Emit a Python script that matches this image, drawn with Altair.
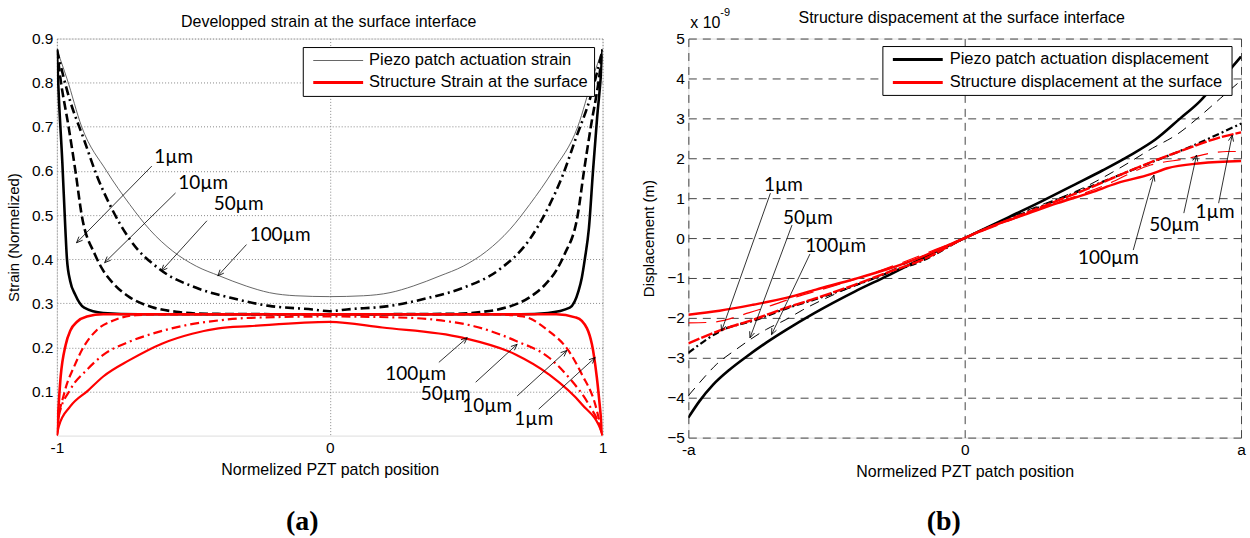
import math
import altair as alt
import pandas as pd

# ---------------- Panel (a): strain (x = normalized position, v = normalized strain) -------------
S_X_P1 = [-1.0, -0.993, -0.98, -0.969, -0.963, -0.951, -0.933, -0.90, -0.83, -0.70, 0.0, 0.70, 0.80, 0.88, 0.912, 0.924, 0.935, 0.95, 0.965, 0.98, 0.993, 1.0]
S_V_P1 = [0.875, 0.77, 0.62, 0.47, 0.40, 0.35, 0.32, 0.29, 0.278, 0.275, 0.275, 0.275, 0.278, 0.29, 0.328, 0.358, 0.40, 0.47, 0.60, 0.72, 0.81, 0.875]
S_X_P10 = [-1.0, -0.987, -0.957, -0.932, -0.909, -0.86, -0.83, -0.792, -0.734, -0.65, -0.553, -0.45, 0.0, 0.45, 0.553, 0.65, 0.734, 0.792, 0.83, 0.86, 0.909, 0.932, 0.957, 0.987, 1.0]
S_V_P10 = [0.875, 0.81, 0.70, 0.60, 0.50, 0.41, 0.374, 0.344, 0.314, 0.291, 0.28, 0.276, 0.275, 0.276, 0.28, 0.291, 0.314, 0.344, 0.374, 0.41, 0.50, 0.60, 0.70, 0.81, 0.875]
S_X_P50 = [-1.0, -0.957, -0.90, -0.854, -0.80, -0.733, -0.623, -0.489, -0.367, -0.221, -0.063, 0.0, 0.063, 0.221, 0.367, 0.489, 0.623, 0.733, 0.80, 0.854, 0.90, 0.957, 1.0]
S_V_P50 = [0.875, 0.77, 0.67, 0.59, 0.516, 0.445, 0.377, 0.335, 0.313, 0.294, 0.286, 0.282, 0.286, 0.294, 0.313, 0.335, 0.377, 0.445, 0.516, 0.59, 0.67, 0.77, 0.875]
S_X_P100 = [-1.0, -0.963, -0.909, -0.818, -0.733, -0.660, -0.575, -0.489, -0.404, -0.306, -0.221, -0.124, 0.0, 0.124, 0.221, 0.306, 0.404, 0.489, 0.575, 0.660, 0.733, 0.818, 0.909, 0.963, 1.0]
S_V_P100 = [0.875, 0.809, 0.70, 0.60, 0.524, 0.467, 0.418, 0.384, 0.362, 0.339, 0.324, 0.317, 0.315, 0.317, 0.324, 0.339, 0.362, 0.384, 0.418, 0.467, 0.524, 0.60, 0.70, 0.809, 0.875]

S_X_S1 = [-1.0, -0.986, -0.968, -0.95, -0.926, -0.89, -0.83, 0.0, 0.83, 0.90, 0.924, 0.961, 0.979, 1.0]
S_V_S1 = [0.0, 0.134, 0.205, 0.239, 0.258, 0.27, 0.275, 0.275, 0.275, 0.268, 0.26, 0.207, 0.132, 0.0]
S_X_S10 = [-1.0, -0.997, -0.973, -0.937, -0.902, -0.854, -0.793, -0.709, -0.6, 0.0, 0.6, 0.709, 0.803, 0.876, 0.924, 0.973, 1.0]
S_V_S10 = [0.0, 0.021, 0.096, 0.156, 0.201, 0.239, 0.261, 0.273, 0.275, 0.275, 0.275, 0.27, 0.237, 0.192, 0.139, 0.071, 0.0]
S_X_S50 = [-1.0, -0.993, -0.951, -0.89, -0.83, -0.734, -0.65, -0.529, -0.408, -0.288, 0.0, 0.288, 0.408, 0.529, 0.681, 0.803, 0.876, 0.949, 0.991, 1.0]
S_V_S50 = [0.0, 0.044, 0.104, 0.149, 0.183, 0.213, 0.231, 0.25, 0.261, 0.267, 0.27, 0.267, 0.261, 0.248, 0.215, 0.177, 0.132, 0.071, 0.019, 0.0]
S_X_S100 = [-1.0, -0.993, -0.951, -0.886, -0.83, -0.734, -0.613, -0.504, -0.408, -0.294, 0.0, 0.193, 0.486, 0.681, 0.803, 0.924, 0.997, 1.0]
S_V_S100 = [0.0, 0.021, 0.066, 0.102, 0.134, 0.171, 0.209, 0.231, 0.243, 0.248, 0.258, 0.245, 0.222, 0.184, 0.139, 0.071, 0.007, 0.0]

S_ANN_LABELS = ["1\u00b5m", "10\u00b5m", "50\u00b5m", "100\u00b5m", "100\u00b5m", "50\u00b5m", "10\u00b5m", "1\u00b5m"]
S_ANN_X = [-0.572, -0.464, -0.334, -0.182, 0.315, 0.425, 0.577, 0.748]
S_ANN_V = [0.632, 0.573, 0.525, 0.455, 0.139, 0.094, 0.068, 0.037]
S_ARR_X = [-0.652, -0.565, -0.450, -0.305, 0.400, 0.535, 0.687, 0.766]
S_ARR_V = [0.611, 0.550, 0.487, 0.433, 0.166, 0.121, 0.090, 0.060]
S_ARR_X2 = [-0.928, -0.825, -0.617, -0.410, 0.504, 0.687, 0.869, 0.973]
S_ARR_V2 = [0.437, 0.392, 0.373, 0.362, 0.222, 0.207, 0.193, 0.177]

S_TITLE = "Developped strain at the surface interface"
S_YTITLE = "Strain  (Normelized)"
S_LEGEND = ["Piezo patch actuation strain", "Structure Strain at the surface"]
S_YTICKS = [0.1, 0.2, 0.3, 0.4, 0.5, 0.6, 0.7, 0.8, 0.9]
S_XLABELS = ["-1", "0", "1"]

# ---------------- Panel (b): displacement (x = normalized position, v in 1e-9 m) -------------
D_X_P100 = [-1.0, -0.959, -0.911, -0.851, -0.791, -0.718, -0.646, -0.544, -0.398, -0.278, -0.158, 0.0, 0.158, 0.278, 0.398, 0.50, 0.60, 0.69, 0.78, 0.85, 0.90, 0.95, 1.0]
D_V_P100 = [-4.5, -4.08, -3.68, -3.3, -2.98, -2.62, -2.3, -1.88, -1.34, -0.94, -0.52, 0.0, 0.52, 0.92, 1.34, 1.7, 2.08, 2.47, 3.0, 3.42, 3.8, 4.15, 4.55]
D_X_P50 = [-1.0, -0.959, -0.899, -0.827, -0.718, -0.646, -0.586, -0.46, -0.34, -0.2, 0.0, 0.2, 0.45, 0.56, 0.679, 0.769, 0.859, 0.925, 1.0]
D_V_P50 = [-3.95, -3.62, -3.17, -2.79, -2.29, -2.04, -1.8, -1.375, -1.04, -0.6, 0.0, 0.62, 1.33, 1.75, 2.25, 2.6, 3.1, 3.5, 3.95]
D_X_P1 = [-1.0, -0.875, -0.759, -0.639, -0.543, -0.398, -0.278, -0.158, 0.0, 0.275, 0.456, 0.636, 0.817, 1.0]
D_V_P1 = [-2.875, -2.3, -2.06, -1.75, -1.54, -1.19, -0.875, -0.58, 0.0, 0.79, 1.29, 1.79, 2.29, 2.87]
D_X_S1 = [-1.0, -0.875, -0.759, -0.639, -0.543, -0.398, -0.278, -0.158, 0.0, 0.275, 0.456, 0.673, 0.793, 0.913, 1.0]
D_V_S1 = [-2.64, -2.29, -2.03, -1.73, -1.52, -1.17, -0.86, -0.56, 0.0, 0.77, 1.27, 1.9, 2.21, 2.5, 2.65]
D_X_S50 = [-1.0, -0.917, -0.779, -0.62, -0.45, -0.3, 0.0, 0.3, 0.5, 0.673, 0.81, 0.889, 0.949, 1.0]
D_V_S50 = [-2.125, -2.11, -1.87, -1.5, -1.15, -0.8, 0.0, 0.8, 1.3, 1.83, 2.0, 2.125, 2.17, 2.17]
D_X_S100 = [-1.0, -0.887, -0.766, -0.646, -0.538, -0.398, -0.278, -0.158, -0.037, 0.0, 0.095, 0.215, 0.336, 0.456, 0.552, 0.673, 0.733, 0.853, 1.0]
D_V_S100 = [-1.92, -1.82, -1.67, -1.5, -1.29, -1.025, -0.775, -0.475, -0.108, 0.0, 0.29, 0.58, 0.875, 1.14, 1.375, 1.6, 1.75, 1.875, 1.93]

D_ANN_LABELS = ["1\u00b5m", "50\u00b5m", "100\u00b5m", "1\u00b5m", "50\u00b5m", "100\u00b5m"]
D_ANN_X = [-0.656, -0.567, -0.467, 0.906, 0.758, 0.520]
D_ANN_V = [1.325, 0.5, -0.2, 0.65, 0.325, -0.5]
D_ARR_X = [-0.703, -0.625, -0.560, 0.919, 0.793, 0.610]
D_ARR_V = [1.125, 0.325, -0.4, 0.875, 0.625, -0.3]
D_ARR_X2 = [-0.880, -0.777, -0.699, 0.968, 0.839, 0.685]
D_ARR_V2 = [-2.33, -2.5, -2.42, 2.58, 2.08, 1.58]

D_TITLE = "Structure dispacement at the surface interface"
D_YTITLE = "Displacement (m)"
D_LEGEND = ["Piezo patch actuation displacement", "Structure displacement at the surface"]
D_YTICKS = [-5, -4, -3, -2, -1, 0, 1, 2, 3, 4, 5]
D_XLABELS = ["-a", "0", "a"]

XTITLE = "Normelized PZT patch position"
XTICKS = [-1, 0, 1]

# ---------------- styling ----------------
SANS = "Liberation Sans"
ANN_FONT = "Lato"
RED = "#ff0000"
LW, LH = 547, 398
RW, RH = 554, 400
ARROW = "M -1 -0.42 L 0 0 L -1 0.42"


class Panel:
    def __init__(self, xaxis, yaxis, ydomain, W, H):
        self.xscale = alt.Scale(domain=[-1, 1], nice=False, zero=False)
        self.yscale = alt.Scale(domain=ydomain, nice=False, zero=False)
        self.xaxis, self.yaxis = xaxis, yaxis
        self.ydomain, self.W, self.H = ydomain, W, H

    def X(self, field="x"):
        return alt.X(f"{field}:Q", scale=self.xscale, axis=self.xaxis)

    def Y(self, field="v"):
        return alt.Y(f"{field}:Q", scale=self.yscale, axis=self.yaxis)


def line(p, xs, vs, color, width, dash=None):
    kw = dict(color=color, strokeWidth=width, interpolate="monotone", clip=True)
    if dash:
        kw["strokeDash"] = dash
    return alt.Chart(pd.DataFrame({"x": xs, "v": vs})).mark_line(**kw).encode(x=p.X(), y=p.Y())


def annotations(p, labels, ax, av, sx, sv, ex, ev, fsize):
    yr = p.ydomain[1] - p.ydomain[0]
    ang = []
    for a, b, c, d in zip(sx, sv, ex, ev):
        dx = (c - a) * p.W / 2.0
        dy = -(d - b) * p.H / yr
        ang.append(math.degrees(math.atan2(dy, dx)) % 360)
    tdf = pd.DataFrame({"x": ax, "v": av, "label": labels})
    adf = pd.DataFrame({"x": sx, "v": sv, "x2": ex, "v2": ev, "ang": ang})
    txt = alt.Chart(tdf).mark_text(font=ANN_FONT, fontSize=fsize, color="black",
                                   align="center", baseline="middle").encode(
        x=p.X(), y=p.Y(), text="label:N")
    shaft = alt.Chart(adf).mark_rule(color="black", strokeWidth=0.8).encode(
        x=p.X(), y=p.Y(), x2="x2:Q", y2="v2:Q")
    head = alt.Chart(adf).mark_point(shape=ARROW, filled=False, stroke="black", strokeWidth=0.8,
                                     size=150, opacity=1).encode(
        x=p.X("x2"), y=p.Y("v2"), angle=alt.Angle("ang:Q", scale=None))
    return [shaft, head, txt]


one = pd.DataFrame({"k": [0]})


def text_at(text, x, y, font=SANS, size=16, weight="normal", align="center"):
    return alt.Chart(one).mark_text(text=text, font=font, fontSize=size, fontWeight=weight,
                                    color="black", align=align, baseline="middle").encode(
        x=alt.value(x), y=alt.value(y))


def legend(labels, box, samples, text_x, ys, fsize):
    layers = [alt.Chart(one).mark_rect(fill="white", stroke="black", strokeWidth=1).encode(
        x=alt.value(box[0]), x2=alt.value(box[1]), y=alt.value(box[2]), y2=alt.value(box[3]))]
    for (col, wid), lab, yy in zip(samples, labels, ys):
        layers.append(alt.Chart(one).mark_rule(color=col, strokeWidth=wid).encode(
            x=alt.value(box[0] + 10), x2=alt.value(box[0] + 60), y=alt.value(yy)))
        layers.append(text_at(lab, text_x, yy, size=fsize, align="left"))
    return layers


def axis_x(title, labels, grid_dash, grid_color):
    expr = f"datum.value < 0 ? '{labels[0]}' : (datum.value > 0 ? '{labels[2]}' : '{labels[1]}')"
    return alt.Axis(values=XTICKS, labelExpr=expr, title=title, grid=True, gridDash=grid_dash,
                    gridColor=grid_color, gridWidth=1, ticks=False, domain=False, labelFont=SANS,
                    labelFontSize=15.5, labelColor="black", labelPadding=5, labelFlush=False,
                    labelOverlap=False, titleFont=SANS, titleFontSize=16,
                    titleFontWeight="normal", titleColor="black", titlePadding=5)


def axis_y(title, values, fmt, grid_dash, grid_color):
    return alt.Axis(values=values, format=fmt, title=title, grid=True, gridDash=grid_dash,
                    gridColor=grid_color, gridWidth=1, ticks=False, domain=False, labelFont=SANS,
                    labelFontSize=15.5, labelColor="black", labelPadding=4, labelFlush=False,
                    labelOverlap=False, titleFont=SANS, titleFontSize=15,
                    titleFontWeight="normal", titleColor="black", titlePadding=10)


# ---------------- panel (a) ----------------
PA = Panel(axis_x(XTITLE, S_XLABELS, [1, 2], "#888"),
           axis_y(S_YTITLE, S_YTICKS, ".1f", [1, 2], "#888"), [0, 0.9], LW, LH)
left_layers = [
    line(PA, S_X_P100, S_V_P100, "#555555", 0.9),
    line(PA, S_X_P50, S_V_P50, "black", 2.6, [9, 4, 2, 4]),
    line(PA, S_X_P10, S_V_P10, "black", 2.6, [9, 4]),
    line(PA, S_X_P1, S_V_P1, "black", 2.6),
    line(PA, S_X_S100, S_V_S100, RED, 2.2),
    line(PA, S_X_S50, S_V_S50, RED, 2.2, [9, 4, 2, 4]),
    line(PA, S_X_S10, S_V_S10, RED, 2.2, [8, 4]),
    line(PA, S_X_S1, S_V_S1, RED, 2.6),
]
left_layers += annotations(PA, S_ANN_LABELS, S_ANN_X, S_ANN_V, S_ARR_X, S_ARR_V, S_ARR_X2, S_ARR_V2, 19)
left_layers += legend(S_LEGEND, (247, 539, 9, 58), [("#555555", 0.9), (RED, 3)], 313, [22, 44], 16.5)
left_layers.append(text_at(S_TITLE, LW / 2 - 1, -16.5, size=16))
left_layers.append(text_at("(a)", 246, 485, font="Liberation Serif", size=28, weight="bold"))

left = alt.layer(*left_layers).properties(width=LW, height=LH)

# ---------------- panel (b) ----------------
PB = Panel(axis_x(XTITLE, D_XLABELS, [8, 6], "#444"),
           axis_y(D_YTITLE, D_YTICKS, "d", [8, 6], "#444"), [-5, 5], RW, RH)
right_layers = [
    line(PB, D_X_P50, D_V_P50, "black", 1.0, [10, 7]),
    line(PB, D_X_P100, D_V_P100, "black", 2.6),
    line(PB, D_X_P1, D_V_P1, "black", 2.2, [7, 3, 2, 3]),
    line(PB, D_X_S50, D_V_S50, RED, 1.2, [18, 10]),
    line(PB, D_X_S100, D_V_S100, RED, 2.4),
    line(PB, D_X_S1, D_V_S1, RED, 2.4, [12, 2]),
]
right_layers += annotations(PB, D_ANN_LABELS, D_ANN_X, D_ANN_V, D_ARR_X, D_ARR_V, D_ARR_X2, D_ARR_V2, 19)
right_layers += legend(D_LEGEND, (195, 545, 8, 57), [("black", 3), (RED, 3)], 262, [21, 44], 16.5)
right_layers.append(text_at("x 10", 2, -15.5, size=16, align="left"))
right_layers.append(text_at("-9", 32, -25.5, size=11, align="left"))
right_layers.append(text_at(D_TITLE, RW / 2 - 3, -20.5, size=16))
right_layers.append(text_at("(b)", 256, 485, font="Liberation Serif", size=28, weight="bold"))

right = alt.layer(*right_layers).properties(width=RW, height=RH)

chart = alt.hconcat(left, right, spacing=86, bounds="flush",
                    padding={"left": 5, "top": 6, "right": 4, "bottom": 0}).configure_view(
    stroke="black", strokeWidth=1).configure(background="white")

chart.save("out.html", embed_options={"renderer": "svg", "actions": False})
